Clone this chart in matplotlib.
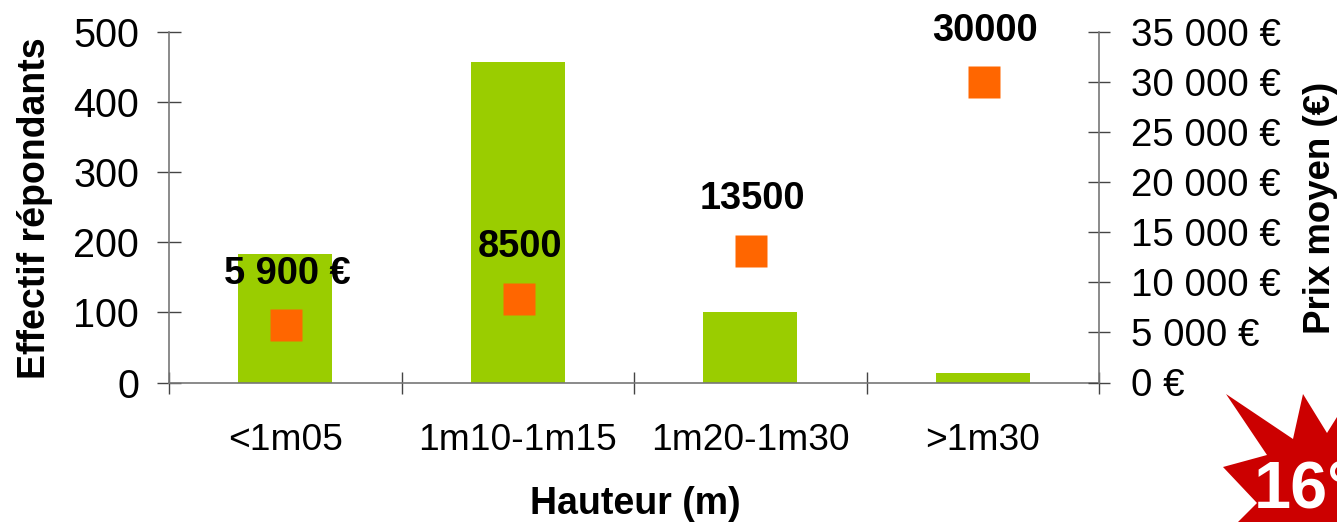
import matplotlib
matplotlib.use("Agg")
import matplotlib.pyplot as plt
from matplotlib.patches import Polygon

plt.rcParams['font.family'] = ['Liberation Sans', 'DejaVu Sans']

categories = ['<1m05', '1m10-1m15', '1m20-1m30', '>1m30']
effectif = [184, 457, 100, 13]
prix = [5750, 8350, 13150, 30000]
prix_labels = ['5 900 €', '8500', '13500', '30000']
left_ticks = [0, 100, 200, 300, 400, 500]
right_ticks = [0, 5000, 10000, 15000, 20000, 25000, 30000, 35000]
right_labels = ['0 €', '5 000 €', '10 000 €', '15 000 €', '20 000 €', '25 000 €', '30 000 €', '35 000 €']

W, H = 1337, 522
fig = plt.figure(figsize=(W / 100, H / 100), dpi=100)
L, R, T, B = 169, 1099, 32, 382.5
ax = fig.add_axes([L / W, 1 - B / H, (R - L) / W, (B - T) / H])
ax2 = ax.twinx()
ax.set_zorder(1)
ax2.set_zorder(2)
ax2.patch.set_visible(False)

x = list(range(len(categories)))
ax.bar(x, effectif, width=0.405, color='#9ACD00', zorder=2)
ax.set_xlim(-0.5, 3.5)
ax.set_ylim(0, 500)
ax.set_yticks(left_ticks)
ax.set_xticks([i - 0.5 for i in range(5)])
ax.set_xticklabels([])
ax.set_xticks(x, minor=True)
ax.set_xticklabels(categories, minor=True, fontsize=26.7)
ax.tick_params(axis='x', which='minor', length=0, pad=29.5)
ax.tick_params(axis='x', which='major', direction='inout', length=16.5, width=1, color='#444444')
ax.tick_params(axis='y', direction='inout', length=17, width=1, color='#444444', labelsize=28.5, pad=13)
for s in ['top', 'right']:
    ax.spines[s].set_visible(False)
for s in ['left', 'bottom']:
    ax.spines[s].set_color('#777777')
    ax.spines[s].set_linewidth(1.2)

ax2.plot(x, prix, ls='none', marker='s', ms=22.8, mfc='#FF6600', mec='none', zorder=3, clip_on=False,
         transform=ax2.transData + matplotlib.transforms.ScaledTranslation(1 / 100, 0, fig.dpi_scale_trans))
ax2.set_ylim(0, 35000)
ax2.set_yticks(right_ticks)
ax2.set_yticklabels(right_labels)
ax2.tick_params(axis='y', direction='inout', length=16.5, width=1, color='#444444', labelsize=27.7, pad=14.5)
for s in ['top', 'left', 'bottom']:
    ax2.spines[s].set_visible(False)
ax2.spines['right'].set_color('#777777')
ax2.spines['right'].set_linewidth(1.2)

for xi, yi, lab in zip(x, prix, prix_labels):
    ax2.annotate(lab, (xi, yi), xytext=(1.5, 37), textcoords='offset points', ha='center', va='center',
                 fontsize=27.4, fontweight='bold', color='black', annotation_clip=False)

fig.text(35 / W, 1 - 208 / H, 'Effectif répondants', rotation=90, ha='center', va='center', fontsize=27, fontweight='bold')
fig.text(1320 / W, 1 - 208 / H, 'Prix moyen (€)', rotation=90, ha='center', va='center', fontsize=26.4, fontweight='bold')
fig.text(635 / W, 1 - 504 / H, 'Hauteur (m)', ha='center', va='center', fontsize=27, fontweight='bold')

star_px = [(1226, 394), (1293, 439), (1303, 394), (1327, 433), (1337, 417), (1337, 522),
           (1238, 522), (1257, 503), (1223, 467), (1267, 455)]
fig.add_artist(Polygon([(px / W, 1 - py / H) for px, py in star_px], closed=True,
                       transform=fig.transFigure, fc='#CC0000', ec='none'))
fig.text(1254 / W, 1 - 491 / H, '16°', ha='left', va='center', fontsize=48, fontweight='bold', color='white')

fig.savefig('out.png', dpi=100)
